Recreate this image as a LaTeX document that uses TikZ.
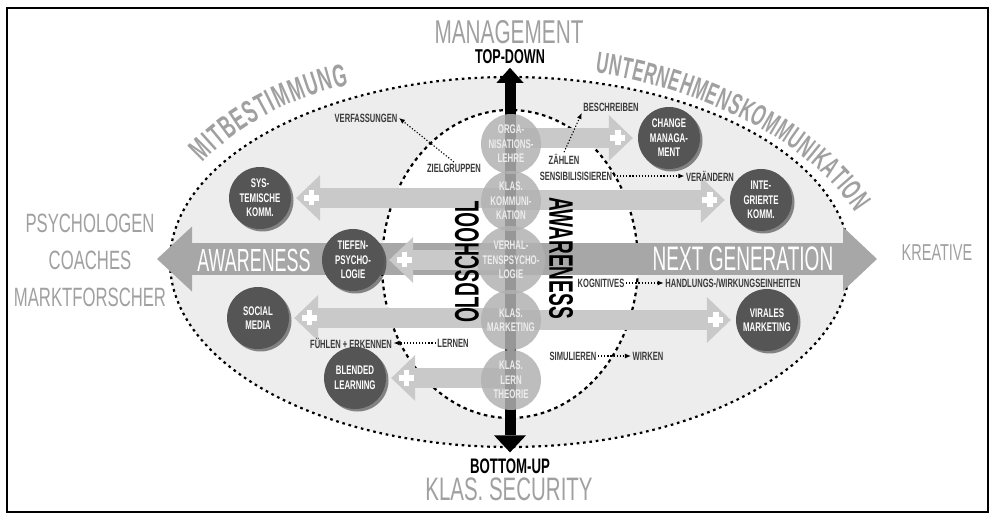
\documentclass[tikz,border=0pt]{standalone}
\usepackage{fontspec}
\setmainfont{Liberation Sans}[FakeStretch=0.63]
\newfontfamily\heavyfont{Liberation Sans}[FakeStretch=0.56]
\newfontfamily\narrowfont{Liberation Sans}[FakeStretch=0.56]
\usetikzlibrary{arrows.meta,shadows,decorations.text}

\definecolor{paleground}{HTML}{EDEDED}
\definecolor{lightband}{HTML}{C9C9C9}
\definecolor{midband}{HTML}{A7A7A7}
\definecolor{hubgray}{HTML}{B2B2B2}
\definecolor{hubtext}{HTML}{EDEDED}
\definecolor{darkdisc}{HTML}{555555}
\definecolor{fadedgray}{HTML}{A0A0A0}
\definecolor{notetext}{HTML}{3A3A3A}

\pgfdeclarelayer{background}
\pgfsetlayers{background,main}

\newcommand\fs[1]{\fontsize{#1}{#1}\selectfont}
\newcommand\arcfont{\narrowfont\bfseries\fontsize{30}{30}\selectfont}
\newcommand\arcfontbig{\narrowfont\bfseries\fontsize{32}{32}\selectfont}

\begin{document}
\begin{tikzpicture}[x=1pt, y=-1pt,
  disc/.style={circle, fill=darkdisc, minimum size=62pt, inner sep=0pt, align=center, text=white,
    font=\bfseries\fontsize{12.5}{14.5}\selectfont,
    drop shadow={shadow xshift=2.5pt, shadow yshift=-2.5pt, opacity=.45, fill=black}},
  hub/.style={circle, fill=hubgray, fill opacity=.85, text opacity=1, minimum size=60pt,
    inner sep=0pt, align=center, text=hubtext, font=\bfseries\fontsize{12.5}{14.5}\selectfont},
  note/.style={text=notetext, inner sep=1.5pt, font=\bfseries\fs{12}},
  fade/.style={text=fadedgray, inner sep=0pt},
  conn/.style={draw=black, line width=1.1pt, dash pattern=on 1.2pt off 1.9pt,
    -{Latex[length=6pt,width=5pt]}},
  band/.style={draw=lightband, line width=20pt,
    -{Triangle[length=24pt,width=46pt,line width=0pt]}, shorten >=5pt},
  bigband/.style={draw=midband, line width=32pt,
    {Triangle[length=35pt,width=65pt,line width=0pt]}-{Triangle[length=34pt,width=64pt,line width=0pt]}},
  spine/.style={draw=black, line width=11pt,
    {Triangle[length=15pt,width=27pt,line width=0pt]}-{Triangle[length=17pt,width=32pt,line width=0pt]}},
  rim/.style={draw=black, line width=2.2pt, dash pattern=on 2.6pt off 3.8pt},
  pics/plussign/.style={code={
    \fill[white] (-7.5,-2.7) rectangle (7.5,2.7);
    \fill[white] (-2.7,-7.5) rectangle (2.7,7.5);}}
]
\useasboundingbox (0,0) rectangle (989,513);

% ---------- headings around the field ----------
\node[fade, font=\fs{33}] (mgmt) at (509,32) {MANAGEMENT};
\node[font=\bfseries\fs{20}, inner sep=0pt] (topdown) at (510,57) {TOP-DOWN};
\node[font=\bfseries\fs{21}, inner sep=0pt] (bottomup) at (510,466) {BOTTOM-UP};
\node[fade, font=\fs{32.5}] (security) at (509,489) {KLAS. SECURITY};
\node[fade, font=\fs{26.5}] (psych) at (90,223) {PSYCHOLOGEN};
\node[fade, font=\fs{26.5}] (coach) at (90,260) {COACHES};
\node[fade, font=\fs{26.5}] (markt) at (90,297) {MARKTFORSCHER};
\node[fade, font=\fs{23}] (kreat) at (937,253) {KREATIVE};

% ---------- central column ----------
\node[hub] (orga)  at (511,144) {ORGA-\\NISATIONS-\\LEHRE};
\node[hub] (kkomm) at (511,201) {KLAS.\\KOMMUNI-\\KATION};
\node[hub] (verh)  at (511,260) {VERHAL-\\TENSPSYCHO-\\LOGIE};
\node[hub] (kmark) at (511,320) {KLAS.\\MARKETING};
\node[hub] (klern) at (511,380) {KLAS.\\LERN\\THEORIE};

% ---------- outer discs ----------
\node[disc] (syst)   at (260,198) {SYS-\\TEMISCHE\\KOMM.};
\node[disc] (change) at (669,138) {CHANGE\\MANAGA-\\MENT};
\node[disc] (integ)  at (761,200) {INTE-\\GRIERTE\\KOMM.};
\node[disc] (tiefen) at (353,260) {TIEFEN-\\PSYCHO-\\LOGIE};
\node[disc] (social) at (258,318) {SOCIAL\\MEDIA};
\node[disc] (viral)  at (767,320) {VIRALES\\MARKETING};
\node[disc] (blend)  at (355,378) {BLENDED\\LEARNING};

% ---------- band labels ----------
\coordinate (awl) at (157,259);
\coordinate (awr) at (877,259);
\node[font=\narrowfont\fs{32}, text=white, inner sep=0pt] (awtext) at (254,260) {AWARENESS};
\node[font=\narrowfont\fs{34}, text=white, inner sep=0pt] (ngtext) at (743,259) {NEXT GENERATION};
\node[font=\heavyfont\bfseries\fs{34}, rotate=90, inner sep=0pt] (olds) at (467,262) {OLDSCHOOL};
\node[font=\heavyfont\bfseries\fs{34}, rotate=-90, inner sep=0pt] (awvert) at (561,258) {AWARENESS};

% ---------- small notes ----------
\node[note] (verf)    at (366,118) {VERFASSUNGEN};
\node[note] (ziel)    at (454,168) {ZIELGRUPPEN};
\node[note] (besch)   at (611,107) {BESCHREIBEN};
\node[note] (zaehl)   at (564,159) {ZÄHLEN};
\node[note] (sensi)   at (576,176) {SENSIBILISISIEREN};
\node[note] (veraend) at (710,176) {VERÄNDERN};
\node[note] (kogn)    at (601,283) {KOGNITIVES};
\node[note] (handl)   at (733,283) {HANDLUNGS-/WIRKUNGSEINHEITEN};
\node[note] (fuehl)   at (351,343) {FÜHLEN + ERKENNEN};
\node[note] (lern)    at (453,343) {LERNEN};
\node[note] (simul)   at (573,356) {SIMULIEREN};
\node[note] (wirk)    at (648,356) {WIRKEN};

\draw[conn] (ziel.north) -- (verf.east);
\draw[conn] (zaehl.north) -- (besch.south west);
\draw[conn] (sensi.east) -- (veraend.west);
\draw[conn] (kogn.east) -- (handl.west);
\draw[conn] (lern.west) -- (fuehl.east);
\draw[conn] (simul.east) -- (wirk.west);

% ---------- curved headings ----------
\path[decorate, decoration={text along path, text={|\arcfontbig|MITBESTIMMUNG},
    text align={fit to path}, text color=fadedgray}]
  (203,163) .. controls (235,128) and (290,97) .. (349,85);
\path[decorate, decoration={text along path, text={|\arcfont|UNTERNEHMENSKOMMUNIKATION},
    text align={fit to path}, text color=fadedgray}]
  (595,73) .. controls (690,86) and (805,135) .. (855,212);

% ---------- background: frame, fields, bands ----------
\begin{pgfonlayer}{background}
  \draw[line width=1.6pt] (7,8) rectangle (988.2,512.2);
  \filldraw[rim, fill=paleground] (510,262) ellipse [x radius=340, y radius=185];
  \filldraw[rim, fill=white, dash pattern=on 3.6pt off 3.6pt] (510,264) ellipse [x radius=128, y radius=154];

  \draw[band] (orga.center |- change) -- (change.west);
  \draw[band] (kkomm.center |- syst) -- (syst.east);
  \draw[band] (kkomm.center |- integ) -- (integ.west);
  \draw[band] (kmark.center |- social) -- (social.east);
  \draw[band] (kmark.center |- viral) -- (viral.west);
  \draw[band] (klern.center |- blend) -- (blend.east);
  \draw[bigband] (awl) -- (awr);
  \draw[band] (verh.center |- tiefen) -- (tiefen.east);
  \draw[spine] ([yshift=-3.5pt]topdown.south) -- ([yshift=6pt]bottomup.north);

  \pic at ([xshift=-20pt]change.west) {plussign};
  \pic at ([xshift=20pt]syst.east) {plussign};
  \pic at ([xshift=-20pt]integ.west) {plussign};
  \pic at ([xshift=20pt]tiefen.east) {plussign};
  \pic at ([xshift=20pt]social.east) {plussign};
  \pic at ([xshift=-20pt]viral.west) {plussign};
  \pic at ([xshift=20pt]blend.east) {plussign};
\end{pgfonlayer}
\end{tikzpicture}
\end{document}
